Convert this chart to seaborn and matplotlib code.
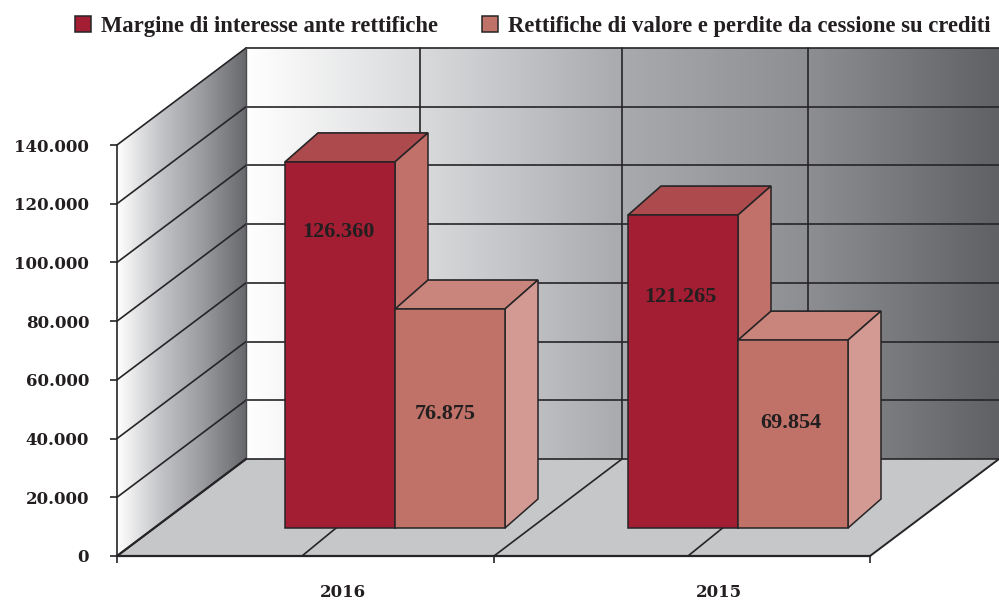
import matplotlib

matplotlib.use("Agg")

import matplotlib.pyplot as plt
import numpy as np
import pandas as pd
import seaborn as sns
from matplotlib.colors import LinearSegmentedColormap
from matplotlib.patches import Polygon

years = ["2016", "2015"]
series_names = [
    "Margine di interesse ante rettifiche",
    "Rettifiche di valore e perdite da cessione su crediti",
]
# bar heights as drawn in the picture, on the axis scale
margine_heights = [124700, 106600]
rettifiche_heights = [74600, 64000]
# numbers printed on the bars
margine_labels = ["126.360", "121.265"]
rettifiche_labels = ["76.875", "69.854"]
y_ticks = [0, 20000, 40000, 60000, 80000, 100000, 120000, 140000]

W, H = 999, 600
TEXT = "#231f20"
LINE = "#262426"
SERIF = "Liberation Serif"

# layout of the pseudo 3D box, in pixels
FRONT_L, FRONT_R, FRONT_B, FRONT_T = 117, 870, 556, 145
DEPTH_X, DEPTH_Y = 129, 97
PX_PER_UNIT = (FRONT_B - FRONT_T) / 140000
BAR_BASE = 528
GROUP_0, GROUP_STEP, BAR_W = 395, 343, 110
BAR_DX, BAR_DY = 33, 29


def make_axes(fig, left, right, top, bottom):
    return fig.add_axes(
        [left / W, 1 - bottom / H, (right - left) / W, (bottom - top) / H],
        facecolor="none",
    )


def gradient(ax, x0, x1, y0, y1, colors, clip):
    cmap = LinearSegmentedColormap.from_list("wall", colors)
    img = ax.imshow(
        np.linspace(0, 1, 256)[None, :],
        extent=[x0, x1, y1, y0],
        cmap=cmap,
        aspect="auto",
        zorder=1,
    )
    patch = Polygon(clip, closed=True, transform=ax.transData, fc="none", ec="none")
    ax.add_patch(patch)
    img.set_clip_path(patch)


sns.set_theme(style="white")
fig = plt.figure(figsize=(W / 100, H / 100), dpi=100, facecolor="white")

# background: walls, floor and grid
bg = make_axes(fig, 0, W, 0, H)
bg.axis("off")
back_l = FRONT_L + DEPTH_X
back_b = FRONT_B - DEPTH_Y
back_t = FRONT_T - DEPTH_Y
back_r = FRONT_R + DEPTH_X

gradient(
    bg, FRONT_L, back_l, back_t, FRONT_B,
    ["#ffffff", "#c4c5c8", "#9a9b9f", "#68696d"],
    [(FRONT_L, FRONT_T), (back_l, back_t), (back_l, back_b), (FRONT_L, FRONT_B)],
)
gradient(
    bg, back_l, back_r, back_t, back_b,
    ["#ffffff", "#d6d7d9", "#a9aaae", "#8d8e92", "#606165"],
    [(back_l, back_t), (back_r, back_t), (back_r, back_b), (back_l, back_b)],
)
bg.add_patch(
    Polygon(
        [(FRONT_L, FRONT_B), (FRONT_R, FRONT_B), (back_r, back_b), (back_l, back_b)],
        closed=True, fc="#c6c7c9", ec="none", zorder=1,
    )
)

for v in y_ticks:
    yf = FRONT_B - v * PX_PER_UNIT
    yb = yf - DEPTH_Y
    bg.plot([FRONT_L, back_l], [yf, yb], color=LINE, lw=1.2, zorder=2)
    bg.plot([back_l, back_r], [yb, yb], color=LINE, lw=1.2, zorder=2)

bg.plot([back_l, back_l], [back_t, back_b], color="#4a4a4d", lw=1.0, zorder=2)
for xb in [420, 622, 808]:
    bg.plot([xb, xb], [back_t, back_b], color=LINE, lw=1.2, zorder=2)
for xf, xb in zip([302, 494, 688], [420, 622, 808]):
    bg.plot([xf, xb], [FRONT_B, back_b], color=LINE, lw=1.2, zorder=2)
bg.plot([FRONT_L, back_l], [FRONT_B, back_b], color=LINE, lw=1.6, zorder=2)
bg.plot([FRONT_R, back_r], [FRONT_B, back_b], color=LINE, lw=1.4, zorder=2)
bg.set_xlim(0, W)
bg.set_ylim(H, 0)

# front axis with the tick labels
front = make_axes(fig, FRONT_L, FRONT_R, FRONT_T, FRONT_B)
front.set_xlim(0, 2)
front.set_ylim(0, 140000)
front.set_yticks(y_ticks)
front.set_yticklabels([f"{v:,}".replace(",", ".") for v in y_ticks])
front.set_xticks([0, 1, 2])
front.set_xticklabels([])
front.set_xticks([0.6, 1.6], labels=years, minor=True)
front.tick_params(axis="x", which="minor", length=0, pad=20)
front.tick_params(axis="both", which="major", length=5, width=1.2, color=LINE, left=True, bottom=True)
front.tick_params(axis="y", pad=15)
for lab in front.get_yticklabels() + front.get_xticklabels(minor=True):
    lab.set_fontfamily("DejaVu Serif")
    lab.set_fontweight("bold")
    lab.set_fontsize(12)
    lab.set_color(TEXT)
sns.despine(ax=front, top=True, right=True)
front.spines["left"].set_color(LINE)
front.spines["left"].set_linewidth(1.2)
front.spines["bottom"].set_color(LINE)
front.spines["bottom"].set_linewidth(1.6)

# bars
df = pd.DataFrame(
    {
        "anno": years * 2,
        "serie": [series_names[0]] * 2 + [series_names[1]] * 2,
        "valore": margine_heights + rettifiche_heights,
    }
)
bars_ax = make_axes(fig, 0, W, 0, H)
sns.barplot(
    data=df, x="anno", y="valore", hue="serie", hue_order=series_names,
    order=years, palette=["#a31d33", "#c07268"], width=2 * BAR_W / GROUP_STEP,
    saturation=1, edgecolor=LINE, linewidth=1.1, ax=bars_ax, zorder=3,
)
bars_ax.set_xlim(-GROUP_0 / GROUP_STEP, (W - GROUP_0) / GROUP_STEP)
bars_ax.set_ylim(-(H - BAR_BASE) / PX_PER_UNIT, BAR_BASE / PX_PER_UNIT)
bars_ax.axis("off")

dx = BAR_DX / GROUP_STEP
dy = BAR_DY / PX_PER_UNIT
face_colors = [("#ad4a4d", "#c1706a"), ("#c9857b", "#d29a93")]
for i, container in enumerate(bars_ax.containers):
    top_c, side_c = face_colors[i]
    for rect in container:
        x0, x1 = rect.get_x(), rect.get_x() + rect.get_width()
        y = rect.get_height()
        # dark bar faces go behind the light bar standing next to it
        z = 2 if i == 0 else 2.5
        bars_ax.add_patch(
            Polygon([(x0, y), (x1, y), (x1 + dx, y + dy), (x0 + dx, y + dy)],
                    closed=True, fc=top_c, ec=LINE, lw=1.2, zorder=z)
        )
        bars_ax.add_patch(
            Polygon([(x1, 0), (x1 + dx, dy), (x1 + dx, y + dy), (x1, y)],
                    closed=True, fc=side_c, ec=LINE, lw=1.1, zorder=z)
        )

handles, labels = bars_ax.get_legend_handles_labels()
bars_ax.get_legend().remove()
legend = fig.legend(
    handles, labels, ncol=2, loc="upper left", bbox_to_anchor=(57 / W, 1 + 2 / H),
    frameon=False, handlelength=0.72, handleheight=0.72, handletextpad=0.42,
    columnspacing=1.95, borderpad=0.3, prop={"family": SERIF, "weight": "bold", "size": 16.3},
)
for text in legend.get_texts():
    text.set_color(TEXT)

# printed values, on a pixel overlay above the bars
overlay = make_axes(fig, 0, W, 0, H)
overlay.axis("off")
overlay.set_xlim(0, W)
overlay.set_ylim(H, 0)
label_x = [338, 680, 445, 791]
label_y = [232, 297, 414, 423]
for x, y, s in zip(label_x, label_y, margine_labels + rettifiche_labels):
    overlay.text(x, y, s, ha="center", va="center", family=SERIF, weight="bold",
                 fontsize=16, color=TEXT)

fig.savefig("out.png", dpi=100)
